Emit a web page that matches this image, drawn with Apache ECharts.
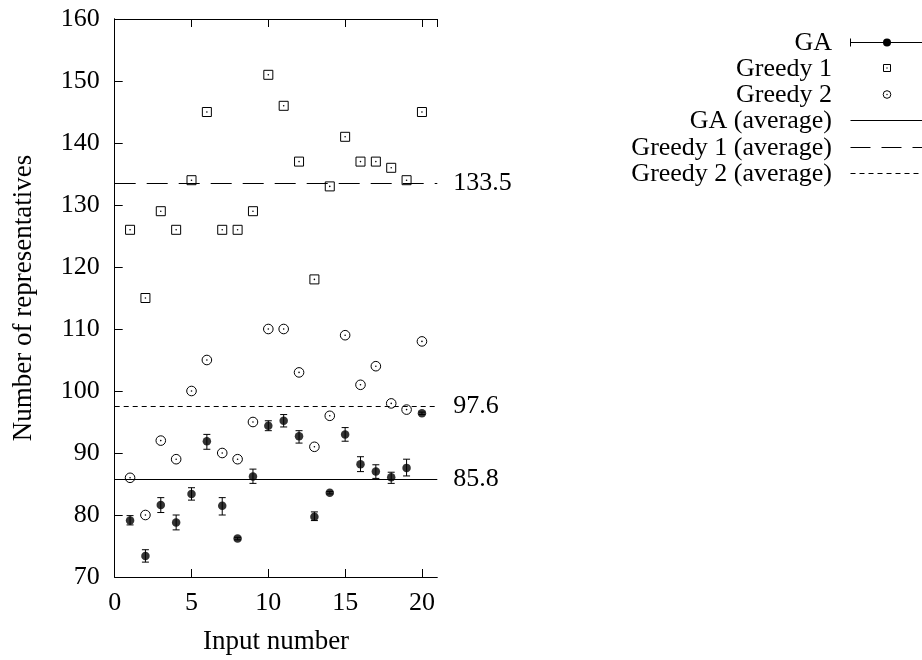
<!DOCTYPE html>
<html>
<head>
<meta charset="utf-8">
<script src="https://cdn.jsdelivr.net/npm/echarts@6/dist/echarts.min.js"></script>
<style>
  html, body { margin: 0; padding: 0; background: #fff; }
  #chart { width: 922px; height: 660px; }
</style>
</head>
<body>
<div id="chart"></div>
<script>
// Input numbers 1..20
const inputs = [1, 2, 3, 4, 5, 6, 7, 8, 9, 10, 11, 12, 13, 14, 15, 16, 17, 18, 19, 20];

// GA: mean number of representatives with error bar bounds
const gaMean = [79.1, 73.4, 81.6, 78.8, 83.4, 91.9, 81.5, 76.2, 86.2, 94.4, 95.2, 92.7, 79.7, 83.6, 93.0, 88.2, 87.0, 86.1, 87.6, 96.4];
const gaLow  = [78.4, 72.4, 80.4, 77.6, 82.4, 90.6, 80.0, 76.0, 85.1, 93.6, 94.2, 91.6, 79.1, 83.4, 91.9, 87.0, 85.9, 85.1, 86.3, 96.2];
const gaHigh = [79.9, 74.4, 82.8, 80.0, 84.4, 93.0, 82.8, 76.4, 87.4, 95.2, 96.2, 93.6, 80.5, 83.8, 94.1, 89.4, 88.1, 86.9, 89.0, 96.6];

// Greedy heuristics
const greedy1 = [126, 115, 129, 126, 134, 145, 126, 126, 129, 151, 146, 137, 118, 133, 141, 137, 137, 136, 134, 145];
const greedy2 = [86, 80, 92, 89, 100, 105, 90, 89, 95, 110, 110, 103, 91, 96, 109, 101, 104, 98, 97, 108];

// Averages over all inputs
const gaAvg = 85.8;
const greedy1Avg = 133.5;
const greedy2Avg = 97.6;
const avgTicks = [gaAvg, greedy2Avg, greedy1Avg];

// Axis ranges
const xMin = 0, xMax = 21, xStep = 5;
const yMin = 70, yMax = 160, yStep = 10;

const FONT = '"Liberation Serif", "Times New Roman", serif';
const FS = 26;

const chart = echarts.init(document.getElementById('chart'), null, { renderer: 'canvas' });

// hollow marker with a centre dot
function hollowMarker(shape) {
  return function (params, api) {
    const p = api.coord([api.value(0), api.value(1)]);
    const outline = shape === 'rect'
      ? { type: 'rect', shape: { x: p[0] - 4.5, y: p[1] - 4.5, width: 9, height: 9 } }
      : { type: 'circle', shape: { cx: p[0], cy: p[1], r: 4.8 } };
    outline.style = { fill: '#fff', stroke: '#000', lineWidth: 1 };
    return {
      type: 'group',
      children: [
        outline,
        { type: 'circle', shape: { cx: p[0], cy: p[1], r: 0.8 }, style: { fill: '#000' } }
      ]
    };
  };
}

function errorBar(params, api) {
  const x = api.value(0);
  const lo = api.coord([x, api.value(1)]);
  const hi = api.coord([x, api.value(2)]);
  const cap = 3.5;
  const st = { stroke: '#000', lineWidth: 1 };
  return {
    type: 'group',
    children: [
      { type: 'line', shape: { x1: lo[0], y1: lo[1], x2: hi[0], y2: hi[1] }, style: st },
      { type: 'line', shape: { x1: lo[0] - cap, y1: lo[1], x2: lo[0] + cap, y2: lo[1] }, style: st },
      { type: 'line', shape: { x1: hi[0] - cap, y1: hi[1], x2: hi[0] + cap, y2: hi[1] }, style: st }
    ]
  };
}

// horizontal average line across the full x range
function avgLine(value, dash) {
  return {
    silent: true,
    symbol: ['none', 'none'],
    label: { show: false },
    lineStyle: { color: '#000', width: 1, type: dash, opacity: 1 },
    emphasis: { disabled: true },
    data: [[{ xAxis: xMin, yAxis: value }, { xAxis: xMax, yAxis: value }]]
  };
}

// legend drawn to the right of the plot
const legendRows = [
  { name: 'GA', y: 42.5 },
  { name: 'Greedy 1', y: 68 },
  { name: 'Greedy 2', y: 94.5 },
  { name: 'GA (average)', y: 120.5 },
  { name: 'Greedy 1 (average)', y: 147.5 },
  { name: 'Greedy 2 (average)', y: 173.5 }
];
const textX = 832, sx0 = 850.5, sx1 = 922, sxm = 887;
const legendGraphics = [];
legendRows.forEach(r => {
  legendGraphics.push({
    type: 'text', x: textX, y: r.y + 1,
    style: { text: r.name, font: FS + 'px ' + FONT, fill: '#000', align: 'right', verticalAlign: 'middle' }
  });
});
const lk = { stroke: '#000', lineWidth: 1 };
legendGraphics.push(
  { type: 'line', shape: { x1: sx0, y1: 42.5, x2: sx1, y2: 42.5 }, style: lk },
  { type: 'line', shape: { x1: sx0, y1: 38.5, x2: sx0, y2: 46.5 }, style: lk },
  { type: 'circle', shape: { cx: sxm, cy: 42.5, r: 4 }, style: { fill: '#000' } },
  { type: 'rect', shape: { x: sxm - 3.5, y: 68 - 3.5, width: 7, height: 7 }, style: { fill: '#fff', stroke: '#000', lineWidth: 1 } },
  { type: 'circle', shape: { cx: sxm, cy: 68, r: 0.7 }, style: { fill: '#000' } },
  { type: 'circle', shape: { cx: sxm, cy: 94.5, r: 3.8 }, style: { fill: '#fff', stroke: '#000', lineWidth: 1 } },
  { type: 'circle', shape: { cx: sxm, cy: 94.5, r: 0.7 }, style: { fill: '#000' } },
  { type: 'line', shape: { x1: sx0, y1: 120.5, x2: sx1, y2: 120.5 }, style: lk },
  { type: 'line', shape: { x1: sx0, y1: 147.5, x2: sx1, y2: 147.5 }, style: { stroke: '#000', lineWidth: 1, lineDash: [20, 11] } },
  { type: 'line', shape: { x1: sx0, y1: 173.5, x2: sx1, y2: 173.5 }, style: { stroke: '#000', lineWidth: 1, lineDash: [5, 4] } }
);

const axisTextStyle = { color: '#000', fontFamily: FONT, fontSize: FS };
const titleTextStyle = { color: '#000', fontFamily: FONT, fontSize: 27 };
const frameLine = { show: true, lineStyle: { color: '#000', width: 1 } };
const inTick = { show: true, inside: true, length: 8, lineStyle: { color: '#000', width: 1 } };

const option = {
  backgroundColor: '#fff',
  animation: false,
  grid: { left: 114.7, right: 484.7, top: 19, bottom: 81, containLabel: false },
  xAxis: [
    {
      type: 'value', position: 'bottom', min: xMin, max: xMax, interval: xStep,
      name: 'Input number', nameLocation: 'middle', nameGap: 51,
      nameTextStyle: titleTextStyle,
      axisLine: frameLine, axisTick: inTick, splitLine: { show: false },
      axisLabel: Object.assign({ margin: 13, showMaxLabel: false }, axisTextStyle)
    },
    {
      type: 'value', position: 'top', min: xMin, max: xMax, interval: xStep,
      axisLine: frameLine, axisTick: inTick, splitLine: { show: false },
      axisLabel: { show: false }
    }
  ],
  yAxis: [
    {
      type: 'value', position: 'left', min: yMin, max: yMax, interval: yStep,
      name: 'Number of representatives', nameLocation: 'middle', nameGap: 77, nameRotate: 90,
      nameTextStyle: titleTextStyle,
      axisLine: frameLine, axisTick: inTick, splitLine: { show: false },
      axisLabel: Object.assign({ margin: 15 }, axisTextStyle)
    },
    {
      // right side carries the average values as labels
      type: 'value', position: 'right', min: yMin, max: yMax,
      axisLine: frameLine, splitLine: { show: false },
      axisTick: { show: false },
      axisLabel: Object.assign({
        margin: 16, customValues: avgTicks,
        formatter: v => Number(v).toFixed(1)
      }, axisTextStyle)
    }
  ],
  series: [
    {
      name: 'GA error', type: 'custom', xAxisIndex: 0, yAxisIndex: 0,
      renderItem: errorBar, silent: true,
      data: inputs.map((x, i) => [x, gaLow[i], gaHigh[i]]),
      z: 3
    },
    {
      name: 'GA', type: 'scatter', xAxisIndex: 0, yAxisIndex: 0,
      symbol: 'circle', symbolSize: 8.5,
      itemStyle: { color: '#000' },
      data: inputs.map((x, i) => [x, gaMean[i]]),
      markLine: avgLine(gaAvg, 'solid'),
      z: 4
    },
    {
      name: 'Greedy 1', type: 'custom', xAxisIndex: 0, yAxisIndex: 0,
      renderItem: hollowMarker('rect'),
      data: inputs.map((x, i) => [x, greedy1[i]]),
      markLine: avgLine(greedy1Avg, [21, 11]),
      z: 4
    },
    {
      name: 'Greedy 2', type: 'custom', xAxisIndex: 0, yAxisIndex: 0,
      renderItem: hollowMarker('circle'),
      data: inputs.map((x, i) => [x, greedy2[i]]),
      markLine: avgLine(greedy2Avg, [5, 4]),
      z: 4
    }
  ],
  graphic: legendGraphics
};

chart.setOption(option);
</script>
</body>
</html>
